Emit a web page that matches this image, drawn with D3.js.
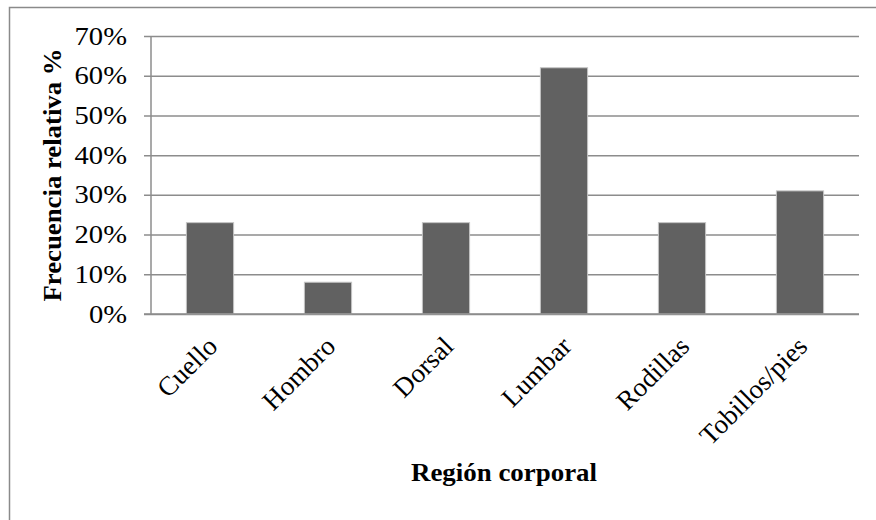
<!DOCTYPE html>
<html>
<head>
<meta charset="utf-8">
<script src="https://cdn.jsdelivr.net/npm/d3@7/dist/d3.min.js"></script>
<style>
  html, body { margin: 0; padding: 0; background: #fff; }
  svg { display: block; }
  text { font-family: "Liberation Serif", "Times New Roman", serif; fill: #000; }
</style>
</head>
<body>
<svg id="chart" width="876" height="520"></svg>
<script>
// Body regions and their relative frequency (%)
const categories = ["Cuello", "Hombro", "Dorsal", "Lumbar", "Rodillas", "Tobillos/pies"];
const values = [23, 8, 23, 62, 23, 31];
const yTicks = [0, 10, 20, 30, 40, 50, 60, 70];
const yTitle = "Frecuencia relativa %";
const xTitle = "Región corporal";

const svg = d3.select("#chart");
const W = 876, H = 520;
const plot = { left: 151, right: 859, top: 36, bottom: 314 };

// Chart frame (top and left edges)
svg.append("path")
  .attr("d", `M9.5,${H} V7.5 H${W}`)
  .attr("fill", "none")
  .attr("stroke", "#8a8a8a")
  .attr("stroke-width", 1.5);

const x = d3.scaleBand()
  .domain(categories)
  .range([plot.left, plot.right])
  .paddingInner(0.6)
  .paddingOuter(0.3);

const y = d3.scaleLinear()
  .domain([0, 70])
  .range([plot.bottom, plot.top]);

// Horizontal gridlines with tick stubs to the left of the axis
const yAxis = d3.axisLeft(y)
  .tickValues(yTicks)
  .tickSize(-(plot.right - plot.left))
  .tickPadding(24)
  .tickFormat(d => d + "%");

const gy = svg.append("g")
  .attr("transform", `translate(${plot.left},0)`)
  .call(yAxis);
gy.select(".domain").remove();
gy.selectAll(".tick line")
  .attr("x1", -7)
  .attr("stroke", "#8c8c8c")
  .attr("stroke-width", 1.5);
gy.selectAll(".tick text")
  .attr("font-size", 26)
  .attr("dy", "0.31em")
  .style("font-family", "'Liberation Serif', serif")
  .attr("fill", "#000")
  .each(function () {
    // slightly wider lettering for the percentage labels
    const len = this.getComputedTextLength();
    d3.select(this).attr("textLength", len * 1.1).attr("lengthAdjust", "spacingAndGlyphs");
  });

// Vertical axis line
svg.append("line")
  .attr("x1", plot.left).attr("x2", plot.left)
  .attr("y1", plot.top).attr("y2", plot.bottom)
  .attr("stroke", "#8c8c8c")
  .attr("stroke-width", 1.5);

// Bars
svg.append("g")
  .selectAll("rect")
  .data(values)
  .join("rect")
  .attr("x", (d, i) => x(categories[i]))
  .attr("width", x.bandwidth())
  .attr("y", d => y(d))
  .attr("height", d => y(0) - y(d))
  .attr("fill", "#616161")
  .attr("stroke", "#c4c4c4")
  .attr("stroke-width", 1);

// Baseline over bar bottoms
svg.append("line")
  .attr("x1", plot.left - 7).attr("x2", plot.right)
  .attr("y1", y(0)).attr("y2", y(0))
  .attr("stroke", "#8c8c8c")
  .attr("stroke-width", 1.5);

// Rotated category labels
svg.append("g")
  .selectAll("text")
  .data(categories)
  .join("text")
  .attr("transform", d => `translate(${x(d) + x.bandwidth() / 2 + 9},${plot.bottom + 34}) rotate(-45)`)
  .attr("text-anchor", "end")
  .attr("font-size", 27)
  .text(d => d);

// Axis titles
svg.append("text")
  .attr("x", (plot.left + plot.right) / 2 - 1)
  .attr("y", 481)
  .attr("text-anchor", "middle")
  .attr("font-size", 25)
  .attr("font-weight", "bold")
  .attr("textLength", 186)
  .attr("lengthAdjust", "spacingAndGlyphs")
  .text(xTitle);

svg.append("text")
  .attr("transform", "translate(61,175) rotate(-90)")
  .attr("text-anchor", "middle")
  .attr("font-size", 25)
  .attr("font-weight", "bold")
  .attr("textLength", 253)
  .attr("lengthAdjust", "spacingAndGlyphs")
  .text(yTitle);
</script>
</body>
</html>
